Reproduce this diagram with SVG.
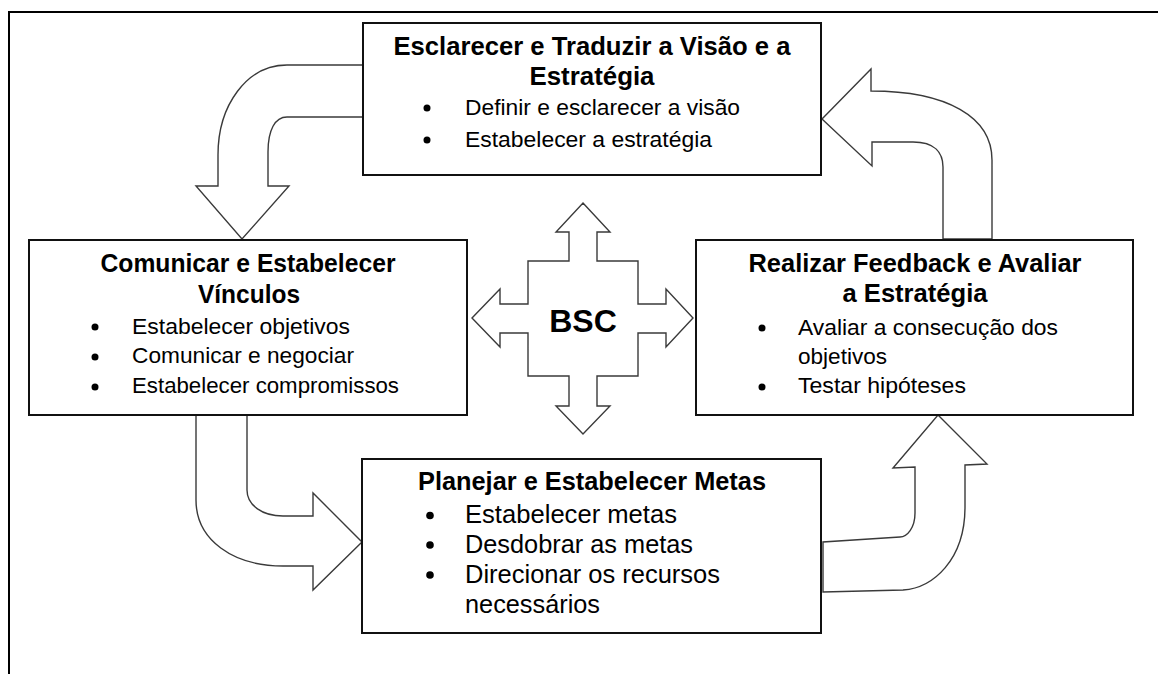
<svg xmlns="http://www.w3.org/2000/svg" width="1158" height="674" viewBox="0 0 1158 674">
<style>
.frame{fill:none;stroke:#000;stroke-width:2}
.box{fill:#fff;stroke:#111;stroke-width:2}
.arrow{fill:#fff;stroke:#3a3a3a;stroke-width:1.4;stroke-linejoin:miter}
.t{font-family:"Liberation Sans",Arial,sans-serif;font-weight:bold;font-size:25px;fill:#000;text-anchor:middle}
.b{font-family:"Liberation Sans",Arial,sans-serif;font-size:22.8px;fill:#000}
.bb{font-family:"Liberation Sans",Arial,sans-serif;font-size:25.4px;fill:#000}
.dot{fill:#000}
.bsc{font-family:"Liberation Sans",Arial,sans-serif;font-weight:bold;font-size:32px;fill:#000;text-anchor:middle}
</style>
<rect width="1158" height="674" fill="#fff"/>
<rect class="frame" x="9" y="12" width="1170" height="700"/>
<g id="connectors">
<path class="arrow" d="M363,65 H287 C247,65 218,105 218,155 V186 H196 L242,239 L289,186 H268 V152 C268,130 275,117 287,117 H363 Z"/>
<path class="arrow" d="M822,119 L871,69 V91 C947,91 992,117 992,160 V239 H943 V167 C943,153 935,142 913,142 H872 V166 Z"/>
<path class="arrow" d="M196,415 V500 C196,540 233,566 283,566 H313 V590 L362,542 L313,493 V516 H283 C262,516 247,505 247,490 V415 Z"/>
<path class="arrow" d="M938,415 L987,464 L965,465 V507 C965,560 933,588 903,590 L823,592 V542 L900,537 C907,537 915,528 915,513 V467 L893,468 Z"/>
</g>
<g id="bsc">
<path class="arrow" d="M583,203 L610,232 H597 V261 H638 V304 H666 V289 L693,318 L666,347 V333 H638 V376 H597 V406 H610 L583,434 L556,406 H569 V376 H528 V333 H500 V347 L472,318 L500,289 V304 H528 V261 H569 V232 H556 Z"/>
<text class="bsc" x="583" y="332">BSC</text>
</g>
<g id="node-esclarecer">
<rect class="box" x="363" y="23" width="458" height="152"/>
<text class="t" x="592" y="55" textLength="397" lengthAdjust="spacingAndGlyphs">Esclarecer e Traduzir a Visão e a</text>
<text class="t" x="592" y="85" textLength="125" lengthAdjust="spacingAndGlyphs">Estratégia</text>
<circle class="dot" cx="427" cy="108" r="3.5"/>
<text class="b" x="465" y="115" textLength="275" lengthAdjust="spacingAndGlyphs">Definir e esclarecer a visão</text>
<circle class="dot" cx="427" cy="140" r="3.5"/>
<text class="b" x="465" y="147" textLength="247" lengthAdjust="spacingAndGlyphs">Estabelecer a estratégia</text>
</g>
<g id="node-comunicar">
<rect class="box" x="29" y="240" width="438" height="175"/>
<text class="t" x="248" y="272" textLength="295" lengthAdjust="spacingAndGlyphs">Comunicar e Estabelecer</text>
<text class="t" x="249" y="303" textLength="102" lengthAdjust="spacingAndGlyphs">Vínculos</text>
<circle class="dot" cx="95" cy="327" r="3.5"/>
<text class="b" x="132" y="334" textLength="218" lengthAdjust="spacingAndGlyphs">Estabelecer objetivos</text>
<circle class="dot" cx="95" cy="357" r="3.5"/>
<text class="b" x="132" y="363" textLength="222" lengthAdjust="spacingAndGlyphs">Comunicar e negociar</text>
<circle class="dot" cx="95" cy="387" r="3.5"/>
<text class="b" x="132" y="393" textLength="267" lengthAdjust="spacingAndGlyphs">Estabelecer compromissos</text>
</g>
<g id="node-realizar">
<rect class="box" x="696" y="240" width="437" height="175"/>
<text class="t" x="915" y="272" textLength="333" lengthAdjust="spacingAndGlyphs">Realizar Feedback e Avaliar</text>
<text class="t" x="915" y="302" textLength="145" lengthAdjust="spacingAndGlyphs">a Estratégia</text>
<circle class="dot" cx="762" cy="328" r="3.5"/>
<text class="b" x="798" y="335" textLength="260" lengthAdjust="spacingAndGlyphs">Avaliar a consecução dos</text>
<text class="b" x="798" y="364" textLength="89" lengthAdjust="spacingAndGlyphs">objetivos</text>
<circle class="dot" cx="762" cy="387" r="3.5"/>
<text class="b" x="798" y="393" textLength="168" lengthAdjust="spacingAndGlyphs">Testar hipóteses</text>
</g>
<g id="node-planejar">
<rect class="box" x="362" y="459" width="459" height="174"/>
<text class="t" x="592" y="490" textLength="348" lengthAdjust="spacingAndGlyphs">Planejar e Estabelecer Metas</text>
<circle class="dot" cx="430" cy="515.5" r="3.8"/>
<text class="bb" x="465" y="523" textLength="212" lengthAdjust="spacingAndGlyphs">Estabelecer metas</text>
<circle class="dot" cx="430" cy="545" r="3.8"/>
<text class="bb" x="465" y="553" textLength="228" lengthAdjust="spacingAndGlyphs">Desdobrar as metas</text>
<circle class="dot" cx="430" cy="575" r="3.8"/>
<text class="bb" x="465" y="583" textLength="255" lengthAdjust="spacingAndGlyphs">Direcionar os recursos</text>
<text class="bb" x="465" y="613" textLength="135" lengthAdjust="spacingAndGlyphs">necessários</text>
</g>
</svg>
